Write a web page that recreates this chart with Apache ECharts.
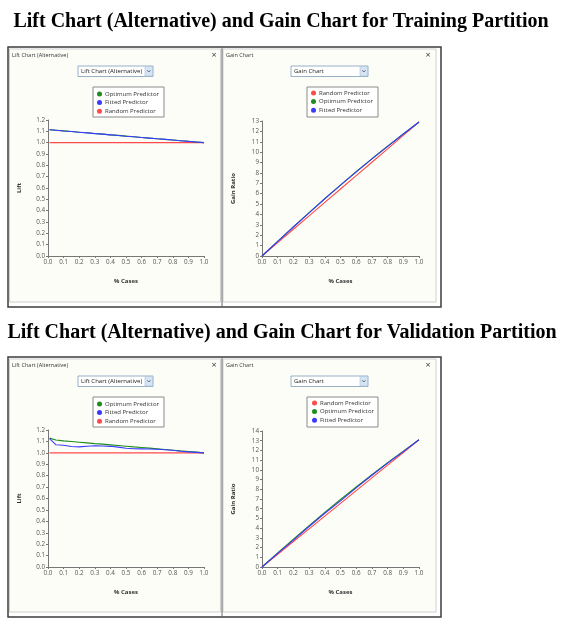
<!DOCTYPE html>
<html lang="en" style="height: 100%">
<head>
  <meta charset="utf-8">
</head>
<body style="height: 100%; margin: 0; background: #ffffff">
  <div id="container" style="width: 565px; height: 621px"></div>

  <script type="text/javascript" src="https://cdn.jsdelivr.net/npm/echarts@6/dist/echarts.min.js"></script>

  <script type="text/javascript">
    // lift chart x positions (% cases)
    var liftX = [0.01, 0.05, 0.1, 0.15, 0.2, 0.25, 0.3, 0.35, 0.4, 0.45, 0.5,
                 0.55, 0.6, 0.65, 0.7, 0.75, 0.8, 0.85, 0.9, 0.95, 1.0];
    var trainLiftOptimum = [1.115, 1.110, 1.104, 1.098, 1.092, 1.087, 1.081, 1.075, 1.069, 1.064, 1.058,
                            1.052, 1.046, 1.040, 1.035, 1.029, 1.023, 1.017, 1.012, 1.006, 1.000];
    var trainLiftFitted = [1.114, 1.109, 1.103, 1.098, 1.092, 1.086, 1.080, 1.075, 1.069, 1.063, 1.057,
                           1.052, 1.046, 1.040, 1.034, 1.029, 1.023, 1.017, 1.011, 1.006, 1.000];
    var validLiftOptimum = [1.129, 1.112, 1.105, 1.099, 1.093, 1.087, 1.081, 1.076, 1.070, 1.064, 1.058,
                            1.052, 1.047, 1.041, 1.035, 1.029, 1.023, 1.017, 1.012, 1.006, 1.000];
    var validLiftFitted = [1.124, 1.071, 1.066, 1.055, 1.052, 1.058, 1.062, 1.060, 1.057, 1.050, 1.040,
                           1.036, 1.035, 1.033, 1.031, 1.027, 1.022, 1.014, 1.008, 1.004, 1.000];
    var liftRandom = [1, 1, 1, 1, 1, 1, 1, 1, 1, 1, 1, 1, 1, 1, 1, 1, 1, 1, 1, 1, 1];

    // gain chart x positions
    var gainX = [0, 0.1, 0.2, 0.3, 0.4, 0.5, 0.6, 0.7, 0.8, 0.9, 1.0];
    var trainGainRandom = [0, 1.29, 2.58, 3.87, 5.16, 6.45, 7.74, 9.03, 10.32, 11.61, 12.9];
    var trainGainOptimum = [0, 1.41, 2.80, 4.17, 5.52, 6.83, 8.11, 9.36, 10.57, 11.75, 12.9];
    var trainGainFitted = [0, 1.40, 2.79, 4.16, 5.51, 6.82, 8.10, 9.35, 10.56, 11.75, 12.9];
    var validGainRandom = [0, 1.31, 2.62, 3.93, 5.24, 6.55, 7.86, 9.17, 10.48, 11.79, 13.1];
    var validGainOptimum = [0, 1.45, 2.87, 4.26, 5.62, 6.95, 8.24, 9.50, 10.73, 11.93, 13.1];
    var validGainFitted = [0, 1.40, 2.76, 4.17, 5.53, 6.81, 8.14, 9.45, 10.69, 11.88, 13.1];

    var liftLegend = ['Optimum Predictor', 'Fitted Predictor', 'Random Predictor'];
    var gainLegend = ['Random Predictor', 'Optimum Predictor', 'Fitted Predictor'];

    var FONT = '"Open Sans", "Noto Sans", sans-serif';
    var colors = { 'Random Predictor': '#ff4a4a', 'Optimum Predictor': '#1e8c1e', 'Fitted Predictor': '#3a3aff' };

    function pairs(xs, ys) {
      return xs.map(function (x, i) { return [x, ys[i]]; });
    }

    var dom = document.getElementById('container');
    var myChart = echarts.init(dom, null, { renderer: 'canvas' });

    // pixel boxes of the four plot areas: training row, then validation row
    var grids = [
      { left: 48, top: 120, width: 156, height: 136 },
      { left: 262, top: 121, width: 157, height: 135 },
      { left: 48, top: 430, width: 156, height: 137 },
      { left: 262, top: 431, width: 157, height: 136 }
    ];

    function xAxisFor(i) {
      return {
        gridIndex: i, type: 'value', min: 0, max: 1, interval: 0.1,
        name: '% Cases', nameLocation: 'middle', nameGap: 22,
        nameTextStyle: { fontSize: 6, fontWeight: 'bold', color: '#333', fontFamily: FONT },
        axisLine: { show: true, lineStyle: { color: '#777', width: 1 } },
        axisTick: { show: true, length: 2, lineStyle: { color: '#777' } },
        axisLabel: { fontSize: 6.3, color: '#555', margin: 3, fontFamily: FONT,
          formatter: function (v) { return v.toFixed(1); } },
        splitLine: { show: false }
      };
    }

    function yAxisFor(i, max, name, lift) {
      return {
        gridIndex: i, type: 'value', min: 0, max: max, interval: lift ? 0.1 : 1,
        name: name, nameLocation: 'middle', nameGap: 26,
        nameTextStyle: { fontSize: 6, fontWeight: 'bold', color: '#333', fontFamily: FONT },
        axisLine: { show: true, lineStyle: { color: '#777', width: 1 } },
        axisTick: { show: true, length: 2, lineStyle: { color: '#777' } },
        axisLabel: { fontSize: 6.3, color: '#555', margin: 3, fontFamily: FONT,
          formatter: function (v) { return lift ? v.toFixed(1) : String(Math.round(v)); } },
        splitLine: { show: false }
      };
    }

    function line(name, i, data) {
      return {
        name: name, type: 'line', xAxisIndex: i, yAxisIndex: i,
        data: data, showSymbol: false, symbol: 'circle', animation: false,
        color: colors[name],
        lineStyle: { width: 1.1, color: colors[name] }
      };
    }

    function legendAt(left, top, names) {
      return {
        data: names, orient: 'vertical', left: left, top: top,
        icon: 'circle', itemWidth: 5, itemHeight: 5, itemGap: 2.6,
        padding: 0, selectedMode: false, z: 6,
        textStyle: { fontSize: 6, color: '#333', fontFamily: FONT, padding: [0, 0, 0, -2] }
      };
    }

    // window chrome for one partition row, dy = vertical offset
    function chrome(dy) {
      var g = [];
      g.push({ type: 'rect', shape: { x: 8, y: 47 + dy, width: 433, height: 260 },
        style: { fill: '#ffffff', stroke: '#3c3c3c', lineWidth: 1.5 }, z: -30 });
      g.push({ type: 'rect', shape: { x: 9.5, y: 49 + dy, width: 211, height: 253 },
        style: { fill: '#fdfdf8', stroke: '#cfcfcf', lineWidth: 1 }, z: -20 });
      g.push({ type: 'rect', shape: { x: 223, y: 49 + dy, width: 213, height: 253 },
        style: { fill: '#fdfdf8', stroke: '#cfcfcf', lineWidth: 1 }, z: -20 });
      g.push({ type: 'line', shape: { x1: 222, y1: 47 + dy, x2: 222, y2: 307 + dy },
        style: { stroke: '#666', lineWidth: 1 }, z: -10 });
      // panel captions and close marks
      var cap = { fontSize: 5.5, fill: '#333', fontFamily: FONT, verticalAlign: 'middle' };
      g.push({ type: 'text', x: 12, y: 55 + dy, style: Object.assign({ text: 'Lift Chart (Alternative)' }, cap), z: 3 });
      g.push({ type: 'text', x: 226, y: 55 + dy, style: Object.assign({ text: 'Gain Chart' }, cap), z: 3 });
      var xs = { fontSize: 9, fill: '#444', fontFamily: FONT, verticalAlign: 'middle', align: 'center' };
      g.push({ type: 'text', x: 214, y: 55 + dy, style: Object.assign({ text: '\u00d7' }, xs), z: 3 });
      g.push({ type: 'text', x: 428, y: 55 + dy, style: Object.assign({ text: '\u00d7' }, xs), z: 3 });
      // dropdowns
      [[78, 75, 'Lift Chart (Alternative)'], [291, 77, 'Gain Chart']].forEach(function (d) {
        var x = d[0], w = d[1], y = 66 + dy;
        g.push({ type: 'rect', shape: { x: x, y: y, width: w, height: 10.5 },
          style: { fill: '#ffffff', stroke: '#7f9db9', lineWidth: 0.8 }, z: 3 });
        g.push({ type: 'rect', shape: { x: x + w - 8, y: y + 0.5, width: 7.5, height: 9.5 },
          style: { fill: '#d6e4f3', stroke: '#a9c1dc', lineWidth: 0.6 }, z: 4 });
        g.push({ type: 'polyline', shape: { points: [[x + w - 5.8, y + 4.3], [x + w - 4.2, y + 6], [x + w - 2.6, y + 4.3]] },
          style: { stroke: '#4a5a70', lineWidth: 0.9, fill: null }, z: 5 });
        g.push({ type: 'text', x: x + 3, y: y + 5.4,
          style: { text: d[2], fontSize: 6, fill: '#222', fontFamily: FONT, verticalAlign: 'middle' }, z: 5 });
      });
      // legend frames
      [93, 307].forEach(function (x) {
        g.push({ type: 'rect', shape: { x: x, y: 87 + dy, width: 71, height: 30 },
          style: { fill: '#ffffff', stroke: '#8a8a8a', lineWidth: 1 }, z: 3 });
      });
      return g;
    }

    var titleStyle = { fontSize: 20, fontWeight: 'bold', fill: '#000',
      fontFamily: '"Liberation Serif", "Times New Roman", serif', align: 'center', verticalAlign: 'middle' };

    var option = {
      animation: false,
      backgroundColor: '#ffffff',
      graphic: [].concat(
        [{ type: 'text', x: 281, y: 22, z: 3,
           style: Object.assign({ text: 'Lift Chart (Alternative) and Gain Chart for Training Partition' }, titleStyle) },
         { type: 'text', x: 282, y: 333, z: 3,
           style: Object.assign({ text: 'Lift Chart (Alternative) and Gain Chart for Validation Partition' }, titleStyle) }],
        chrome(0), chrome(310)
      ),
      legend: [
        legendAt(97, 91, liftLegend),
        legendAt(311, 90, gainLegend),
        legendAt(97, 401, liftLegend),
        legendAt(312, 400, gainLegend)
      ],
      grid: grids,
      xAxis: [xAxisFor(0), xAxisFor(1), xAxisFor(2), xAxisFor(3)],
      yAxis: [
        yAxisFor(0, 1.2, 'Lift', true),
        yAxisFor(1, 13, 'Gain Ratio', false),
        yAxisFor(2, 1.2, 'Lift', true),
        yAxisFor(3, 14, 'Gain Ratio', false)
      ],
      series: [
        line('Random Predictor', 0, pairs(liftX, liftRandom)),
        line('Optimum Predictor', 0, pairs(liftX, trainLiftOptimum)),
        line('Fitted Predictor', 0, pairs(liftX, trainLiftFitted)),
        line('Random Predictor', 1, pairs(gainX, trainGainRandom)),
        line('Optimum Predictor', 1, pairs(gainX, trainGainOptimum)),
        line('Fitted Predictor', 1, pairs(gainX, trainGainFitted)),
        line('Random Predictor', 2, pairs(liftX, liftRandom)),
        line('Optimum Predictor', 2, pairs(liftX, validLiftOptimum)),
        line('Fitted Predictor', 2, pairs(liftX, validLiftFitted)),
        line('Random Predictor', 3, pairs(gainX, validGainRandom)),
        line('Optimum Predictor', 3, pairs(gainX, validGainOptimum)),
        line('Fitted Predictor', 3, pairs(gainX, validGainFitted))
      ]
    };

    myChart.setOption(option);
    window.addEventListener('resize', myChart.resize);
  </script>
</body>
</html>
